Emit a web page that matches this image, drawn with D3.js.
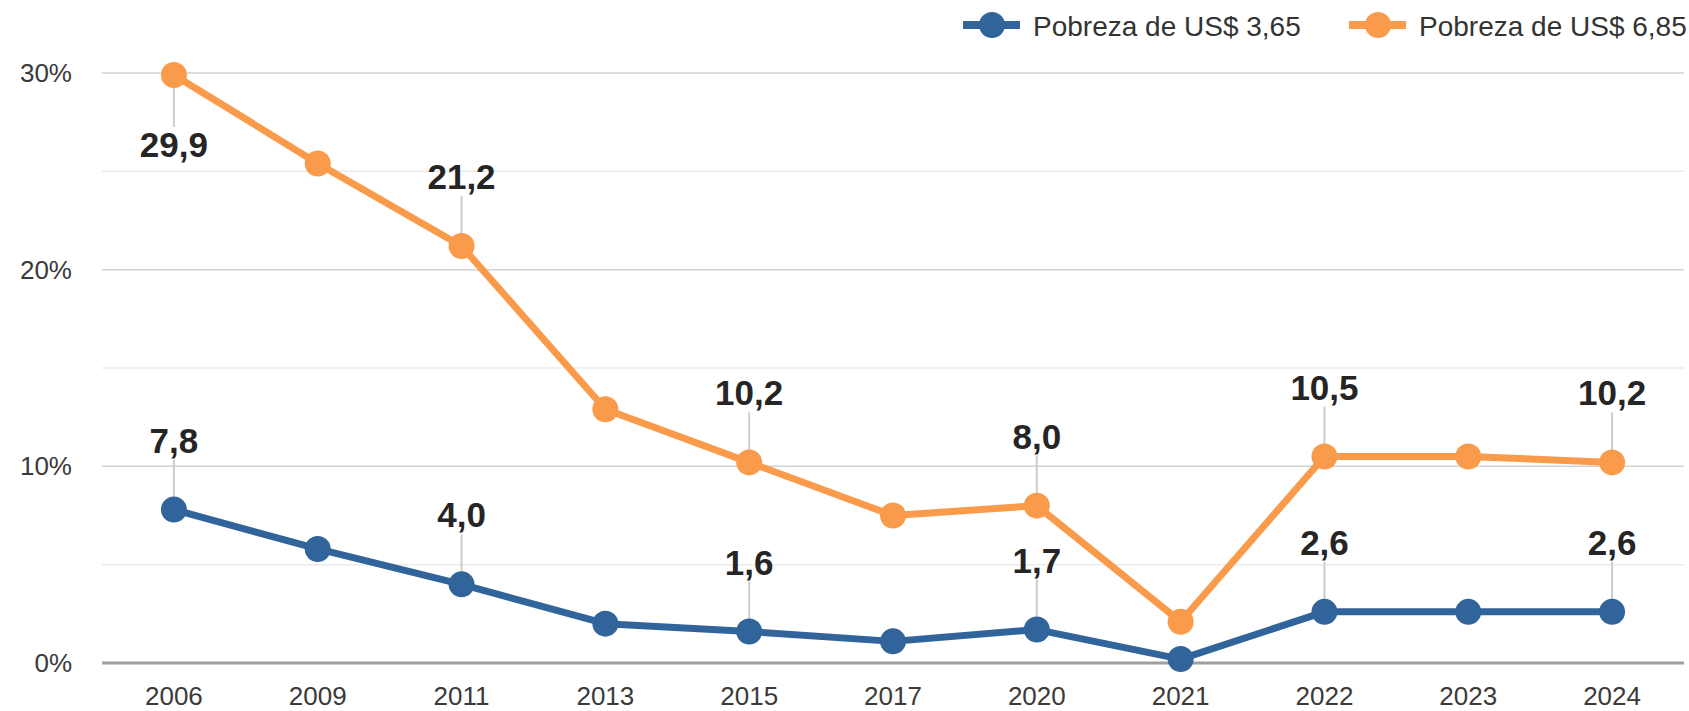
<!DOCTYPE html>
<html>
<head>
<meta charset="utf-8">
<script src="https://cdn.jsdelivr.net/npm/d3@7"></script>
<style>
  html, body { margin: 0; padding: 0; background: #fff; }
  svg { display: block; font-family: "Liberation Sans", Arial, sans-serif; }
</style>
</head>
<body>
<svg id="chart" width="1689" height="711"></svg>
<script>
// ---- data ----
const years = ["2006", "2009", "2011", "2013", "2015", "2017", "2020", "2021", "2022", "2023", "2024"];
const pov365 = [7.8, 5.8, 4.0, 2.0, 1.6, 1.1, 1.7, 0.2, 2.6, 2.6, 2.6];
const pov685 = [29.9, 25.4, 21.2, 12.9, 10.2, 7.5, 8.0, 2.1, 10.5, 10.5, 10.2];
const seriesNames = ["Pobreza de US$ 3,65", "Pobreza de US$ 6,85"];
// which points carry a value label, and where ("above"/"below")
const labels365 = ["above", null, "above", null, "above", null, "above", null, "above", null, "above"];
const labels685 = ["below", null, "above", null, "above", null, "above", null, "above", null, "above"];
const yTicks = [0, 10, 20, 30];
const yMinorTicks = [5, 15, 25];

// ---- layout ----
const svg = d3.select("#chart");
const colors = ["#31649a", "#fa9b4b"];
const x = d3.scaleBand().domain(years).range([102, 1684]).padding(0);
const y = d3.scaleLinear().domain([0, 30]).range([663, 73]);
const cx = d => x(d) + x.bandwidth() / 2;
const fmt = v => d3.format(".1f")(v).replace(".", ",");

// grid
svg.append("g").selectAll("line").data(yMinorTicks).join("line")
  .attr("x1", 102).attr("x2", 1684)
  .attr("y1", d => y(d)).attr("y2", d => y(d))
  .attr("stroke", "#ebebeb").attr("stroke-width", 1.5);
svg.append("g").selectAll("line").data(yTicks.filter(d => d !== 0)).join("line")
  .attr("x1", 102).attr("x2", 1684)
  .attr("y1", d => y(d)).attr("y2", d => y(d))
  .attr("stroke", "#d2d2d2").attr("stroke-width", 1.5);
svg.append("line")
  .attr("x1", 102).attr("x2", 1684)
  .attr("y1", y(0)).attr("y2", y(0))
  .attr("stroke", "#a0a0a0").attr("stroke-width", 3);

// y tick labels
svg.append("g").selectAll("text").data(yTicks).join("text")
  .attr("x", 72).attr("y", d => y(d) + 9)
  .attr("text-anchor", "end")
  .attr("font-size", 26).attr("fill", "#3a3a3a")
  .text(d => d + "%");

// x tick labels
svg.append("g").selectAll("text").data(years).join("text")
  .attr("x", d => cx(d)).attr("y", 705)
  .attr("text-anchor", "middle")
  .attr("font-size", 26).attr("fill", "#3a3a3a")
  .text(d => d);

const series = [
  { name: seriesNames[1], values: pov685, labels: labels685, color: colors[1] },
  { name: seriesNames[0], values: pov365, labels: labels365, color: colors[0] }
];

// leader lines
series.forEach(s => {
  const pts = years.map((yr, i) => ({ yr, v: s.values[i], pos: s.labels[i] })).filter(p => p.pos);
  svg.append("g").selectAll("line").data(pts).join("line")
    .attr("x1", p => cx(p.yr)).attr("x2", p => cx(p.yr))
    .attr("y1", p => y(p.v))
    .attr("y2", p => p.pos === "above" ? y(p.v) - 50 : y(p.v) + 52)
    .attr("stroke", "#cccccc").attr("stroke-width", 2);
});

// lines and points
const line = d3.line().x((d, i) => cx(years[i])).y(d => y(d));
series.forEach(s => {
  svg.append("path").datum(s.values)
    .attr("d", line).attr("fill", "none")
    .attr("stroke", s.color).attr("stroke-width", 7)
    .attr("stroke-linejoin", "round");
  svg.append("g").selectAll("circle").data(s.values).join("circle")
    .attr("cx", (d, i) => cx(years[i])).attr("cy", d => y(d))
    .attr("r", 13).attr("fill", s.color);
});

// value labels
series.forEach(s => {
  const pts = years.map((yr, i) => ({ yr, v: s.values[i], pos: s.labels[i] })).filter(p => p.pos);
  svg.append("g").selectAll("text").data(pts).join("text")
    .attr("x", p => cx(p.yr))
    .attr("y", p => p.pos === "above" ? y(p.v) - 57 : y(p.v) + 82)
    .attr("text-anchor", "middle")
    .attr("font-size", 35).attr("font-weight", "bold").attr("fill", "#252525")
    .text(p => fmt(p.v));
});

// legend
const legendItems = [
  { name: seriesNames[0], color: colors[0], x0: 963 },
  { name: seriesNames[1], color: colors[1], x0: 1349 }
];
const lg = svg.append("g").selectAll("g").data(legendItems).join("g");
lg.append("line")
  .attr("x1", d => d.x0).attr("x2", d => d.x0 + 57)
  .attr("y1", 25).attr("y2", 25)
  .attr("stroke", d => d.color).attr("stroke-width", 8);
lg.append("circle")
  .attr("cx", d => d.x0 + 29).attr("cy", 25).attr("r", 13)
  .attr("fill", d => d.color);
lg.append("text")
  .attr("x", d => d.x0 + 70).attr("y", 36)
  .attr("font-size", 28).attr("fill", "#333")
  .text(d => d.name);
</script>
</body>
</html>
